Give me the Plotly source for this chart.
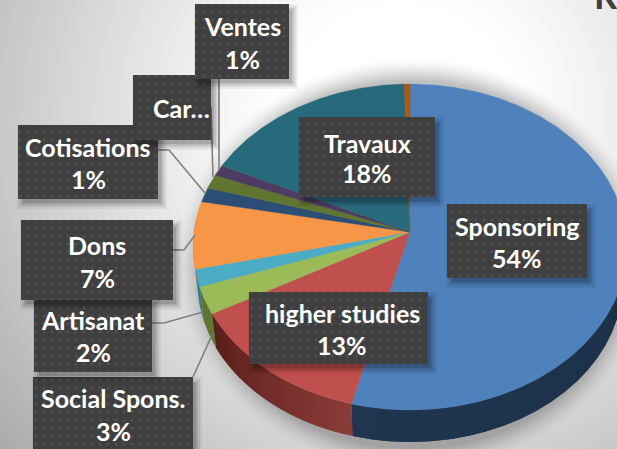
import base64, struct, zlib
import numpy as np
import plotly.graph_objects as go

# ---- data ----
names = ["Sponsoring", "higher studies", "Social Spons.", "Artisanat", "Dons",
         "Cotisations", "Car…", "Ventes", "Travaux", ""]
values = [54.0, 13.0, 2.7, 1.7, 6.7, 1.45, 1.4, 1.1, 17.55, 0.45]
top_colors = ["#4F81BD", "#C0504D", "#9BBB59", "#4BACC6", "#F79646",
              "#2C4D75", "#5F7530", "#4D3B62", "#276A7C", "#B65708"]
side_colors = [("#1C2F47", "#203650"), ("#8A3B38", "#5A1F1C"), ("#5F7530", "#5F7530"),
               ("#2C7C93", "#2C7C93"), ("#B06A2E", "#B06A2E"), ("#1C2F47", "#1C2F47"),
               ("#3F4E20", "#3F4E20"), ("#332741", "#332741"), ("#1A4754", "#1A4754"),
               ("#793A05", "#793A05")]

# ---- layout of label boxes: x0, x1, y0, y1, text x, name y, percent y ----
boxes = {
    "Social Spons.": (33, 193, 377, 452, 113, 398, 431),
    "Artisanat": (34, 152, 298, 372, 93, 320, 352),
    "Dons": (21, 173, 220, 300, 97, 245, 278),
    "Cotisations": (18, 158, 125, 199, 88, 147, 179),
    "Car…": (133, 211, 75, 140, 181, 108, None),
    "Ventes": (195, 289, 4, 79, 242, 26, 59),
    "Travaux": (299, 435, 117, 197, 367, 143, 173),
    "Sponsoring": (447, 587, 204, 278, 517, 226, 258),
    "higher studies": (249, 428, 292, 364, 342, 313, 345),
}
leaders = [
    ([219, 219], [79, 170]),
    ([211, 213], [107, 177]),
    ([158, 169, 205], [150, 150, 193]),
    ([173, 184, 195], [250, 250, 235]),
    ([152, 164, 203], [323, 323, 312]),
    ([193, 212], [377, 335]),
]

W, H = 617, 449
CX, CY, A, B, K = 410.0, 232.0, 216.0, 161.6, 0.092
F, DROP = 0.98, 35.6
FRONT = (np.radians(80), np.radians(280))


def rim(theta, scale=1.0, drop=0.0):
    s, c = np.sin(theta), np.cos(theta)
    return (CX + scale * A * s / (1 + K * c),
            CY + drop - scale * B * c / (1 + K * c))


def background():
    yy, xx = np.mgrid[0:H, 0:W].astype(float)
    d = np.sqrt(((xx - 400) / 430) ** 2 + ((yy - 120) / 420) ** 2)
    g = 255 - 62 * np.clip(d - 0.28, 0, None) ** 1.15 / 0.72 ** 1.15
    r = np.sqrt(((xx - 412) / 214) ** 2 + ((yy - 264) / 186) ** 2)
    g *= 1 - 0.24 * np.clip((1.11 - r) / 0.12, 0, 1) ** 1.5
    g = np.clip(g, 0, 255).astype(np.uint8)
    raw = b"".join(b"\x00" + row.tobytes() for row in g)

    def chunk(t, d_):
        return struct.pack(">I", len(d_)) + t + d_ + struct.pack(">I", zlib.crc32(t + d_))
    png = b"\x89PNG\r\n\x1a\n" + chunk(b"IHDR", struct.pack(">IIBBBBB", W, H, 8, 0, 0, 0, 0)) \
        + chunk(b"IDAT", zlib.compress(raw)) + chunk(b"IEND", b"")
    return "data:image/png;base64," + base64.b64encode(png).decode()


def rgb(h):
    return np.array([int(h[i:i + 2], 16) for i in (1, 3, 5)], float)


def mix(a, b, t):
    v = rgb(a) * (1 - t) + rgb(b) * t
    return "rgb(%d,%d,%d)" % tuple(v)


fig = go.Figure()
bounds = np.cumsum([0] + values) / sum(values) * 2 * np.pi

# side wall: only the front of the rim, each piece overlapping the next to avoid seams
for i in range(len(values)):
    t0, t1 = max(bounds[i], FRONT[0]), min(bounds[i + 1], FRONT[1])
    if t1 <= t0:
        continue
    pieces = 24 if side_colors[i][0] != side_colors[i][1] else 1
    edges = np.linspace(t0, t1, pieces + 1)
    for j in range(pieces):
        end = edges[min(j + 2, pieces)]
        th = np.linspace(edges[j], end, 30)
        x0, y0 = rim(th)
        x1, y1 = rim(th, F, DROP)
        col = mix(side_colors[i][0], side_colors[i][1], j / max(pieces - 1, 1))
        fig.add_trace(go.Scatter(x=np.r_[x0, x1[::-1], x0[0]], y=np.r_[y0, y1[::-1], y0[0]],
                                 mode="lines", fill="toself", fillcolor=col,
                                 line=dict(width=0), hoverinfo="skip"))

# top surface
for i, name in enumerate(names):
    th = np.linspace(bounds[i], bounds[i + 1], max(int(values[i] * 6), 8))
    x, y = rim(th)
    fig.add_trace(go.Scatter(x=np.r_[CX, x, CX], y=np.r_[CY, y, CY], mode="lines", fill="toself",
                             fillcolor=top_colors[i], line=dict(color=top_colors[i], width=0.4),
                             name=name or "autre", hoverinfo="skip"))

# leader lines
for lx, ly in leaders:
    fig.add_trace(go.Scatter(x=lx, y=ly, mode="lines", line=dict(color="#808080", width=1.6),
                             hoverinfo="skip"))

# label boxes, text
annotations = []
for name, (x0, x1, y0, y1, tx, ty, py) in boxes.items():
    for grow, alpha in ((5, 0.05), (3, 0.07), (1, 0.10), (-1, 0.12)):
        fig.add_trace(go.Scatter(
            x=[x0 + 4 - grow, x1 + 4 + grow, x1 + 4 + grow, x0 + 4 - grow, x0 + 4 - grow],
            y=[y0 + 5 - grow, y0 + 5 - grow, y1 + 5 + grow, y1 + 5 + grow, y0 + 5 - grow],
            mode="lines", fill="toself", fillcolor=f"rgba(0,0,0,{alpha})",
            line=dict(width=0), hoverinfo="skip"))
    fig.add_trace(go.Scatter(
        x=[x0, x1, x1, x0, x0], y=[y0, y0, y1, y1, y0], mode="lines", fill="toself",
        fillcolor="#3F3F3F",
        fillpattern=dict(shape=".", size=8, solidity=0.12, fgcolor="#626262", bgcolor="#3F3F3F"),
        line=dict(width=0), hoverinfo="skip"))
    v = values[names.index(name)]
    annotations.append(dict(x=tx, y=ty, text=f"<b>{name}</b>", showarrow=False,
                            font=dict(family="Lato", size=25, color="white")))
    if py is not None:
        annotations.append(dict(x=tx, y=py, text=f"<b>{round(v)}%</b>", showarrow=False,
                                font=dict(family="Lato", size=25, color="white")))

annotations.append(dict(x=592, y=10, text="<b>R</b>", showarrow=False, xanchor="left", yanchor="bottom",
                        yshift=-9, font=dict(family="Lato", size=36, color="#404040")))

fig.update_layout(
    width=W, height=H, margin=dict(l=0, r=0, t=0, b=0), showlegend=False,
    paper_bgcolor="white", plot_bgcolor="rgba(0,0,0,0)",
    xaxis=dict(range=[0, W], visible=False, fixedrange=True),
    yaxis=dict(range=[H, 0], visible=False, fixedrange=True),
    annotations=annotations,
    images=[dict(source=background(), xref="paper", yref="paper", x=0, y=1, sizex=1, sizey=1,
                 sizing="stretch", layer="below", xanchor="left", yanchor="top")],
)
fig.write_html("out.html", config=dict(displayModeBar=False),
               post_script="document.body.style.margin='0';document.body.style.overflow='hidden';"
                           "document.body.style.fontVariantLigatures='none';")
